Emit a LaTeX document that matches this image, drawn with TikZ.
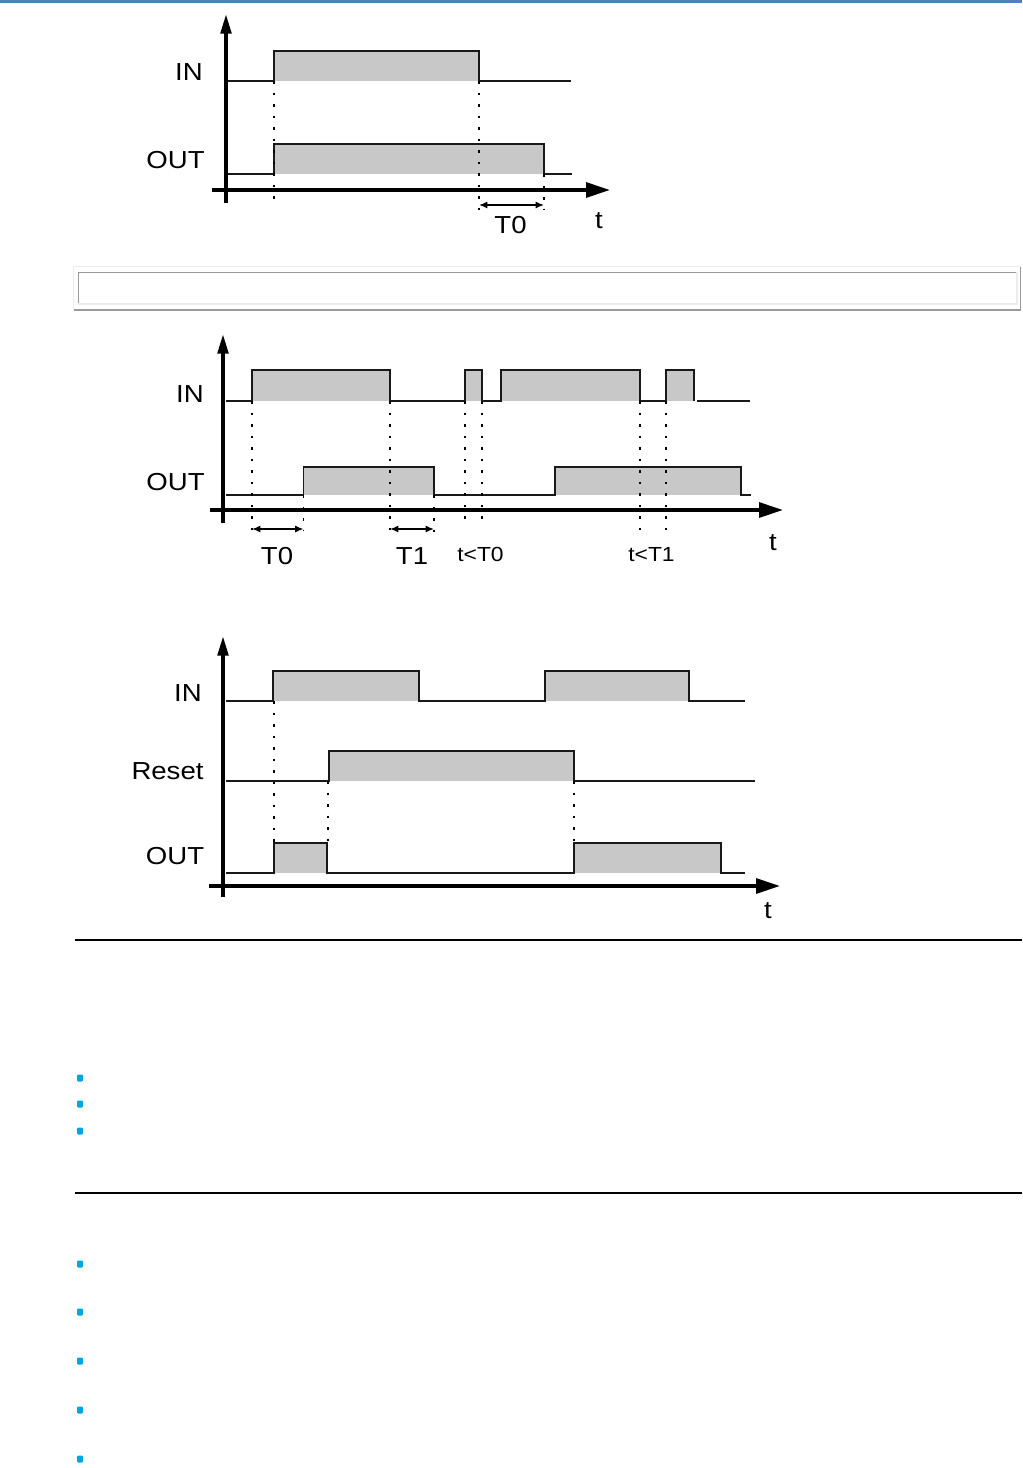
\documentclass[tikz,border=0pt]{standalone}
\usepackage{fontspec}
\usepackage{tikz}
\usetikzlibrary{arrows.meta}
\newfontfamily\sigfont{Liberation Sans}[FakeStretch=1.12]
\definecolor{PageBlue}{HTML}{4F81BD}
\definecolor{PulseGray}{HTML}{C8C8C8}
\definecolor{FrameDark}{HTML}{9A9A9A}
\definecolor{FrameLight}{HTML}{ECECEC}
\definecolor{BulletCyan}{HTML}{00A6E0}

\begin{document}
\begin{tikzpicture}[x=0.025cm, y=-0.025cm,
    axis/.style={line width=2.6pt, -{Triangle[length=17pt,width=10.5pt]}},
    yaxis/.style={line width=2.6pt, -{Triangle[length=14pt,width=7.5pt]}},
    sig/.style={line width=1.1pt, black!90},
    pulse/.style={fill=PulseGray},
    guide/.style={line width=0.8pt, dash pattern=on 1.8pt off 6.4pt},
    span/.style={line width=1pt, {Latex[length=6pt,width=5pt]}-{Latex[length=6pt,width=5pt]}},
    lbl/.style={font=\sigfont\fontsize{17.5}{20}\selectfont, anchor=base, inner sep=0pt},
    small/.style={font=\sigfont\fontsize{14.5}{17}\selectfont, anchor=base, inner sep=0pt}]
    \useasboundingbox (0,0) rectangle (1022,1468);

    % Page header bar
    \fill[PageBlue] (0,0) rectangle (1022,2.5);

    % ---------------- Diagram 1 ----------------
    % Pulses
    \fill[pulse] (274,51) rectangle (479,81);
    \fill[pulse] (274,144) rectangle (544,174);

    % Signals
    \draw[sig] (226,81) -- (274,81) -- (274,51) -- (479,51) -- (479,81) -- (571,81);
    \draw[sig] (226,174) -- (274,174) -- (274,144) -- (544,144) -- (544,174) -- (572,174);

    % Guides
    \draw[guide] (274,81) -- (274,207);
    \draw[guide] (479,81) -- (479,210);
    \draw[guide] (544,174) -- (544,210);

    % Axes
    \draw[yaxis] (226,203) -- (226,14);
    \draw[axis] (212,190) -- (610,190);

    % Delay
    \draw[span] (479,205) -- (544,205);

    % Labels
    \node[lbl] (in1) at (189,80) {IN};
    \node[lbl] (out1) at (175.5,168) {OUT};
    \node[lbl] (tz1) at (510.5,233) {T0};
    \node[lbl] (t1) at (599,228) {t};

    % Separator frame
    \draw[FrameLight, line width=1pt] (73.5,310) -- (73.5,266.7) -- (1020.7,266.7);
    \draw[FrameDark, line width=1pt] (73.5,310) -- (1020.7,310) -- (1020.7,266.7);
    \draw[FrameDark, line width=1pt] (78.4,304.3) -- (78.4,272.3) -- (1017,272.3);
    \draw[FrameLight, line width=1.4pt] (78.4,304.3) -- (1017,304.3) -- (1017,272.3);

    % ---------------- Diagram 2 ----------------
    % Pulses
    \fill[pulse] (252,370) rectangle (390,401);
    \fill[pulse] (465,370) rectangle (482,401);
    \fill[pulse] (501,370) rectangle (640,401);
    \fill[pulse] (666,370) rectangle (694,401);
    \fill[pulse] (303.5,467) rectangle (434,495);
    \fill[pulse] (555,467) rectangle (741,495);

    % Signals
    \draw[sig] (226,401) -- (252,401) -- (252,370) -- (390,370) -- (390,401) -- (465,401)
        -- (465,370) -- (482,370) -- (482,401) -- (501,401) -- (501,370) -- (640,370)
        -- (640,401) -- (666,401) -- (666,370) -- (694,370) -- (694,401);
    \draw[sig] (697,401) -- (750,401);
    \draw[sig] (226,495) -- (303.5,495) -- (303.5,467) -- (434,467) -- (434,495) -- (555,495)
        -- (555,467) -- (741,467) -- (741,495) -- (751,495);

    % Guides
    \draw[guide] (252,401) -- (252,530);
    \draw[guide] (303.5,495) -- (303.5,530);
    \draw[guide] (390,401) -- (390,530);
    \draw[guide] (434,495) -- (434,532);
    \draw[guide] (465,401) -- (465,527);
    \draw[guide] (482,401) -- (482,527);
    \draw[guide] (640,401) -- (640,530);
    \draw[guide] (666,401) -- (666,530);

    % Axes
    \draw[yaxis] (223,523) -- (223,334);
    \draw[axis] (210,510) -- (783,510);

    % Delays
    \draw[span] (252,529) -- (303.5,529);
    \draw[span] (390,529) -- (434,529);

    % Labels
    \node[lbl] (in2) at (190,402) {IN};
    \node[lbl] (out2) at (175.5,490) {OUT};
    \node[lbl] (tz2) at (277,564) {T0};
    \node[lbl] (to2) at (412,564) {T1};
    \node[small] (lz2) at (480.5,561.5) {t<T0};
    \node[small] (lo2) at (651.5,561.5) {t<T1};
    \node[lbl] (t2) at (773,550) {t};

    % ---------------- Diagram 3 ----------------
    % Pulses
    \fill[pulse] (273,671) rectangle (419,701);
    \fill[pulse] (545,671) rectangle (689,701);
    \fill[pulse] (329,751) rectangle (574,781);
    \fill[pulse] (274,843) rectangle (327,873);
    \fill[pulse] (574,843) rectangle (721,873);

    % Signals
    \draw[sig] (226,701) -- (273,701) -- (273,671) -- (419,671) -- (419,701) -- (545,701)
        -- (545,671) -- (689,671) -- (689,701) -- (745,701);
    \draw[sig] (226,781) -- (329,781) -- (329,751) -- (574,751) -- (574,781) -- (755,781);
    \draw[sig] (226,873) -- (274,873) -- (274,843) -- (327,843) -- (327,873) -- (574,873)
        -- (574,843) -- (721,843) -- (721,873) -- (745,873);

    % Guides
    \draw[guide] (274,701) -- (274,843);
    \draw[guide] (328,781) -- (328,843);
    \draw[guide] (574,781) -- (574,843);

    % Axes
    \draw[yaxis] (223,897) -- (223,636);
    \draw[axis] (209,886) -- (780,886);

    % Labels
    \node[lbl] (in3) at (188,701) {IN};
    \node[lbl] (rst3) at (167.5,779) {Reset};
    \node[lbl] (out3) at (175,864) {OUT};
    \node[lbl] (t3) at (768,918) {t};

    % ---------------- Page rules and bullets ----------------
    \draw[line width=1.2pt] (75,940) -- (1022,940);
    \draw[line width=1.2pt] (75,1193) -- (1022,1193);
    \foreach \by in {1078,1104,1131,1264,1312,1361,1410,1459}
        \fill[BulletCyan, rounded corners=0.8pt] (77,\by-3.5) rectangle (83,\by+3.5);

\end{tikzpicture}
\end{document}
